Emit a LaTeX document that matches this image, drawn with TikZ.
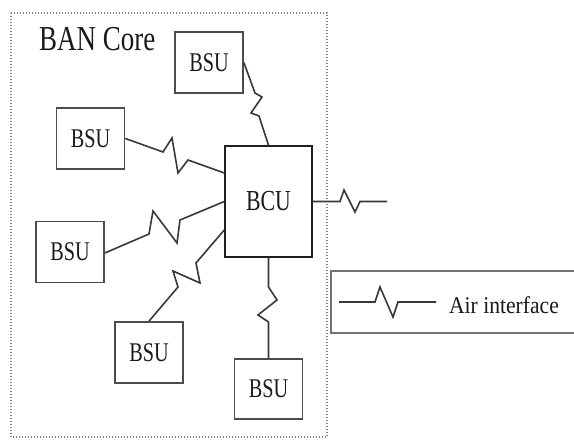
\documentclass[tikz,border=0pt]{standalone}
\usepackage{fontspec}
\setmainfont{Liberation Serif}
\begin{document}
\begin{tikzpicture}[x=1pt,y=-1pt,
  box/.style={draw=black!70,line width=1.7pt,inner sep=0pt,text=black!90},
  bsubox/.style={box,minimum width=68pt,minimum height=61pt,font=\fontsize{27}{27}\selectfont},
  link/.style={draw=black!78,line width=1.6pt,line join=miter},
  lbl/.style={inner sep=0pt,text=black!90}]
\useasboundingbox (0,0) rectangle (574,441);
% dotted frame
\draw[black!50,line width=1.2pt,dash pattern=on 1pt off 2pt] (11,13) rectangle (327,437);
\node[lbl,anchor=base west,font=\fontsize{35}{35}\selectfont] (title) at (39,51) {\scalebox{0.77}[1]{BAN Core}};
% nodes
\node[bsubox] (bsuA) at (209,62.5) {\scalebox{0.75}[1]{BSU}};
\node[bsubox] (bsuB) at (90.5,138.5) {\scalebox{0.75}[1]{BSU}};
\node[bsubox] (bsuC) at (70,252) {\scalebox{0.75}[1]{BSU}};
\node[bsubox] (bsuD) at (149,352.5) {\scalebox{0.75}[1]{BSU}};
\node[bsubox,minimum height=60pt] (bsuE) at (268.5,389) {\scalebox{0.75}[1]{BSU}};
\node[box,draw=black!88,line width=1.4pt,minimum width=87pt,minimum height=111pt,font=\fontsize{29}{29}\selectfont] (bcu) at (268.5,201.5) {\scalebox{0.75}[1]{BCU}};
% connectors
\draw[link] (bsuA.east) -- (255,93) -- (262,97) -- (251,113) -- (259,116) -- (bcu.north);
\draw[link] (bsuB.east) -- (163,152) -- (172,138) -- (178,173) -- (188,160) -- (bcu.west |- 0,173);
\draw[link] (bsuC.east |- 0,253) -- (149,234) -- (153,211) -- (177,243) -- (180,220) -- (bcu.west);
\draw[link] (bcu.west |- 0,230) -- (196,263) -- (200,283) -- (173,271) -- (178,287) -- (bsuD.north);
\draw[link] (bcu.south) -- (268.5,287) -- (277,300) -- (258,315) -- (268.5,322) -- (bsuE.north);
\coordinate (out) at (387,201.5);
\draw[link] (bcu.east) -- (340,201.5) -- (344,190) -- (355,212) -- (360,201.5) -- (out);
% legend
\draw[black!55,line width=1.5pt] (575,271) -| (331,333) -- (575,333);
\coordinate (l1) at (339,302);
\coordinate (l2) at (436,302);
\draw[link] (l1) -- (375,302) -- (380,287) -- (393,317) -- (398,302) -- (l2);
\node[lbl,font=\fontsize{24}{24}\selectfont] (air) at (504,305) {\scalebox{0.9}[1]{Air interface}};
\end{tikzpicture}
\end{document}
